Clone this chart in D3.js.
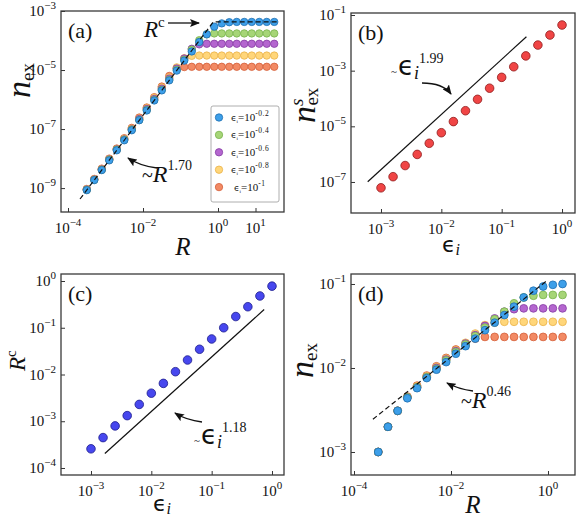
<!DOCTYPE html>
<html>
<head>
<meta charset="utf-8">
<script src="https://cdn.jsdelivr.net/npm/d3@7"></script>
<style>
  body { margin: 0; background: #fff; }
  svg text, svg tspan { font-family: "Liberation Serif", "DejaVu Serif", serif; fill: #111; }
  svg tspan.eps { font-family: "DejaVu Sans", sans-serif; }
</style>
</head>
<body>
<svg id="chart" width="581" height="518" font-family="Liberation Serif, DejaVu Serif, serif"></svg>
<script>
// values are stored as log10 of what is plotted

// (a) n_ex vs R, five epsilon_i
const aLogR = [-3.5,-3.3,-3.1,-2.9,-2.7,-2.5,-2.3,-2.1,-1.9,-1.7,-1.5,-1.3,-1.1,-0.9,-0.7,-0.5,-0.3,-0.1,0.1,0.3,0.5,0.7,0.9,1.1,1.3,1.5];
const aBlue   = [-9.07,-8.73,-8.39,-8.06,-7.72,-7.38,-7.04,-6.70,-6.37,-6.03,-5.69,-5.35,-5.02,-4.68,-4.37,-4.05,-3.79,-3.53,-3.42,-3.38,-3.37,-3.37,-3.37,-3.37,-3.37,-3.37];
const aGreen  = [-9.06,-8.72,-8.38,-8.04,-7.70,-7.36,-7.02,-6.69,-6.35,-6.01,-5.67,-5.33,-4.99,-4.65,-4.31,-3.99,-3.79,-3.76,-3.76,-3.76,-3.76,-3.76,-3.76,-3.76,-3.76,-3.76];
const aPurple = [-9.05,-8.71,-8.37,-8.03,-7.69,-7.35,-7.01,-6.66,-6.32,-5.98,-5.63,-5.29,-4.95,-4.61,-4.28,-4.13,-4.11,-4.11,-4.11,-4.11,-4.11,-4.11,-4.11,-4.11,-4.11,-4.11];
const aYellow = [-9.04,-8.70,-8.36,-8.02,-7.68,-7.33,-6.99,-6.64,-6.29,-5.94,-5.59,-5.25,-4.91,-4.60,-4.52,-4.51,-4.51,-4.51,-4.51,-4.51,-4.51,-4.51,-4.51,-4.51,-4.51,-4.51];
const aOrange = [-9.03,-8.69,-8.34,-8.00,-7.66,-7.31,-6.96,-6.61,-6.27,-5.92,-5.56,-5.20,-4.94,-4.90,-4.89,-4.89,-4.89,-4.89,-4.89,-4.89,-4.89,-4.89,-4.89,-4.89,-4.89,-4.89];
const aFit = [[-3.68,-9.37],[-0.125,-3.37],[1.63,-3.37]];

// (b) n_ex^s vs epsilon_i
const bLogEps = [-3,-2.8,-2.6,-2.4,-2.2,-2,-1.8,-1.6,-1.4,-1.2,-1,-0.8,-0.6,-0.4,-0.2,0];
const bNs = [-7.21,-6.81,-6.41,-6.01,-5.61,-5.23,-4.83,-4.44,-4.03,-3.63,-3.24,-2.86,-2.47,-2.08,-1.72,-1.36];
const bFit = [[-3.22,-6.99],[-0.59,-1.78]];

// (c) R^c vs epsilon_i
const cLogEps = [-3,-2.8,-2.6,-2.4,-2.2,-2,-1.8,-1.6,-1.4,-1.2,-1,-0.8,-0.6,-0.4,-0.2,0];
const cRc = [-3.59,-3.35,-3.10,-2.88,-2.64,-2.40,-2.19,-1.94,-1.69,-1.46,-1.24,-1.00,-0.76,-0.55,-0.32,-0.11];
const cFit = [[-2.77,-3.69],[-0.13,-0.61]];

// (d) n_ex vs R, five epsilon_i
const dLogR = [-3.5,-3.3,-3.1,-2.9,-2.7,-2.5,-2.3,-2.1,-1.9,-1.7,-1.5,-1.3,-1.1,-0.9,-0.7,-0.5,-0.3,-0.1,0.1,0.3];
const dBlue   = [-3.00,-2.70,-2.51,-2.36,-2.24,-2.12,-2.02,-1.93,-1.83,-1.74,-1.65,-1.55,-1.46,-1.37,-1.27,-1.16,-1.08,-1.03,-1.01,-1.00];
const dGreen  = [-3.00,-2.70,-2.51,-2.35,-2.23,-2.11,-2.01,-1.91,-1.81,-1.72,-1.62,-1.52,-1.42,-1.33,-1.23,-1.16,-1.14,-1.13,-1.13,-1.13];
const dPurple = [-3.00,-2.70,-2.51,-2.35,-2.23,-2.11,-2.00,-1.90,-1.80,-1.71,-1.61,-1.50,-1.41,-1.33,-1.30,-1.29,-1.29,-1.29,-1.29,-1.29];
const dYellow = [-3.00,-2.70,-2.51,-2.35,-2.22,-2.10,-1.99,-1.89,-1.79,-1.70,-1.59,-1.49,-1.46,-1.45,-1.45,-1.45,-1.45,-1.45,-1.45,-1.45];
const dOrange = [-3.00,-2.70,-2.51,-2.34,-2.21,-2.09,-1.98,-1.88,-1.78,-1.73,-1.65,-1.63,-1.63,-1.63,-1.63,-1.63,-1.63,-1.63,-1.63,-1.63];
const dFit = [[-3.61,-2.61],[0.0,-0.95]];

const legendExps = ["-0.2", "-0.4", "-0.6", "-0.8", "-1"];
const fills = ["#3d9fe9", "#a6d577", "#b466cf", "#ffd67a", "#f28a64"];
const edges = ["#1f6fb0", "#78b24c", "#853ca3", "#eab24a", "#d45f3a"];

const SERIF = "Liberation Serif";
const svg = d3.select("#chart");
const defs = svg.append("defs");
defs.append("marker")
  .attr("id", "head")
  .attr("viewBox", "0 0 10 8")
  .attr("refX", 9).attr("refY", 4)
  .attr("markerWidth", 10).attr("markerHeight", 8)
  .attr("markerUnits", "userSpaceOnUse")
  .attr("orient", "auto")
  .append("path").attr("d", "M0,0 L10,4 L0,8 L2,4 z").attr("fill", "#111");

const p10 = (e) => Math.pow(10, e);

function txt(parent) {
  return parent.append("text").attr("font-family", SERIF);
}

function makePanel(cfg) {
  const x = d3.scaleLog().domain(cfg.xd.map(p10)).range([cfg.x0, cfg.x1]);
  const y = d3.scaleLog().domain(cfg.yd.map(p10)).range([cfg.y1, cfg.y0]);
  const g = svg.append("g");

  g.append("g")
    .attr("transform", `translate(0,${cfg.y1})`)
    .call(d3.axisBottom(x).tickValues(cfg.xt.map(p10)).tickSize(-4).tickFormat(() => ""))
    .call((s) => s.select(".domain").remove())
    .call((s) => s.selectAll("line").attr("stroke", "#333").attr("stroke-width", 1));
  g.append("g")
    .attr("transform", `translate(${cfg.x0},0)`)
    .call(d3.axisLeft(y).tickValues(cfg.yt.map(p10)).tickSize(-4).tickFormat(() => ""))
    .call((s) => s.select(".domain").remove())
    .call((s) => s.selectAll("line").attr("stroke", "#333").attr("stroke-width", 1));

  // tick labels 10^n
  cfg.xt.forEach((e) => {
    const t = txt(g)
      .attr("x", x(p10(e)))
      .attr("y", cfg.y1 + 21)
      .attr("text-anchor", "middle");
    powLabel(t, e);
  });
  cfg.yt.forEach((e) => {
    const t = txt(g)
      .attr("x", cfg.x0 - 5)
      .attr("y", y(p10(e)) + 5)
      .attr("text-anchor", "end");
    powLabel(t, e);
  });

  g.append("rect")
    .attr("x", cfg.x0).attr("y", cfg.y0)
    .attr("width", cfg.x1 - cfg.x0).attr("height", cfg.y1 - cfg.y0)
    .attr("fill", "none").attr("stroke", "#3a3a3a").attr("stroke-width", 1.3);

  txt(g)
    .attr("x", cfg.x0 + 7).attr("y", cfg.y0 + 27)
    .attr("font-size", 22)
    .text(cfg.tag);

  return { g, x, y };
}

function powLabel(t, e) {
  t.append("tspan").attr("font-size", 15).text("10");
  t.append("tspan").attr("font-size", 11).attr("dy", -7)
    .text(String(e).replace("-", "\u2212"));
}

function dots(p, xs, ys, fill, edge, r) {
  p.g.append("g")
    .selectAll("circle")
    .data(xs.map((v, i) => [v, ys[i]]))
    .enter()
    .append("circle")
    .attr("cx", (d) => p.x(p10(d[0])))
    .attr("cy", (d) => p.y(p10(d[1])))
    .attr("r", r)
    .attr("fill", fill)
    .attr("stroke", edge)
    .attr("stroke-width", 0.8);
}

function fitLine(p, pts, dashed) {
  const line = d3.line().x((d) => p.x(p10(d[0]))).y((d) => p.y(p10(d[1])));
  p.g.append("path")
    .attr("d", line(pts))
    .attr("fill", "none")
    .attr("stroke", "#111")
    .attr("stroke-width", 1.2)
    .attr("stroke-dasharray", dashed ? "5,3" : null);
}

function curvedArrow(g, x1, y1, cx, cy, x2, y2) {
  g.append("path")
    .attr("d", `M${x1},${y1} Q${cx},${cy} ${x2},${y2}`)
    .attr("fill", "none").attr("stroke", "#111").attr("stroke-width", 1.3)
    .attr("marker-end", "url(#head)");
}

function epsTerm(g, x, y, power) {
  const t = txt(g).attr("x", x).attr("y", y);
  t.append("tspan").attr("font-size", 11).text("~");
  t.append("tspan").attr("class", "eps").attr("font-family", "DejaVu Sans")
    .attr("font-size", 26).attr("dx", 1).text("\u03f5");
  t.append("tspan").attr("font-size", 18).attr("font-style", "italic").attr("dy", 4).text("i");
  t.append("tspan").attr("font-size", 14).attr("dy", -16).text(power);
}

function rTerm(g, x, y, power) {
  const t = txt(g).attr("x", x).attr("y", y);
  t.append("tspan").attr("font-size", 20).text("~");
  t.append("tspan").attr("font-size", 24).attr("font-style", "italic").text("R");
  t.append("tspan").attr("font-size", 14).attr("dy", -12).text(power);
}

// ---------- (a)
const pa = makePanel({ tag: "(a)", x0: 61, x1: 284, y0: 11, y1: 212,
  xd: [-4.187, 1.76], yd: [-9.81, -3], xt: [-4, -2, 0, 1], yt: [-3, -5, -7, -9] });
const aSeries = [aBlue, aGreen, aPurple, aYellow, aOrange];
for (let i = aSeries.length - 1; i >= 0; i--) dots(pa, aLogR, aSeries[i], fills[i], edges[i], 3.7);
fitLine(pa, aFit, true);

const rc = txt(pa.g).attr("x", 144).attr("y", 37);
rc.append("tspan").attr("font-size", 23).attr("font-style", "italic").text("R");
rc.append("tspan").attr("font-size", 15).attr("dy", -10).text("c");
pa.g.append("line").attr("x1", 168).attr("y1", 23).attr("x2", 199).attr("y2", 23)
  .attr("stroke", "#111").attr("stroke-width", 1.3).attr("marker-end", "url(#head)");

rTerm(pa.g, 142, 182, "1.70");
curvedArrow(pa.g, 157, 168, 140, 166, 128, 158);

// legend
const lg = pa.g.append("g");
lg.append("rect").attr("x", 211).attr("y", 106).attr("width", 68).attr("height", 96)
  .attr("rx", 2).attr("fill", "#fff").attr("stroke", "#999").attr("stroke-width", 0.8);
legendExps.forEach((e, i) => {
  const cy = 117.5 + i * 17.4;
  lg.append("circle").attr("cx", 219).attr("cy", cy).attr("r", 3.7)
    .attr("fill", fills[i]).attr("stroke", edges[i]).attr("stroke-width", 0.8);
  const t = txt(lg).attr("x", i === 4 ? 234 : 231).attr("y", cy + 3.5);
  t.append("tspan").attr("class", "eps").attr("font-family", "DejaVu Sans").attr("font-size", 9).text("\u03f5");
  t.append("tspan").attr("font-size", 5).attr("dy", 2).text("i");
  t.append("tspan").attr("font-size", 11).attr("dy", -2).text("=10");
  t.append("tspan").attr("font-size", 7.5).attr("dy", -5).attr("letter-spacing", 0.6).text(e);
});

// ---------- (b)
const pb = makePanel({ tag: "(b)", x0: 351, x1: 575, y0: 13, y1: 213,
  xd: [-3.497, 0.215], yd: [-8.115, -0.928], xt: [-3, -2, -1, 0], yt: [-1, -3, -5, -7] });
fitLine(pb, bFit, false);
dots(pb, bLogEps, bNs, "#f04545", "#8e1a1a", 4.3);
epsTerm(pb.g, 391, 75, "1.99");
curvedArrow(pb.g, 422, 83, 443, 83, 451, 94);

// ---------- (c)
const pc = makePanel({ tag: "(c)", x0: 61, x1: 284, y0: 274, y1: 475,
  xd: [-3.497, 0.199], yd: [-4.15, 0.15], xt: [-3, -2, -1, 0], yt: [0, -1, -2, -3, -4] });
fitLine(pc, cFit, false);
dots(pc, cLogEps, cRc, "#4747ee", "#1c1c8c", 4.3);
epsTerm(pc.g, 194, 444, "1.18");
curvedArrow(pc.g, 202, 422, 186, 420, 175, 413);

// ---------- (d)
const pd = makePanel({ tag: "(d)", x0: 351, x1: 575, y0: 274, y1: 475,
  xd: [-4.062, 0.557], yd: [-3.274, -0.881], xt: [-4, -2, 0], yt: [-1, -2, -3] });
const dSeries = [dBlue, dGreen, dPurple, dYellow, dOrange];
for (let i = dSeries.length - 1; i >= 0; i--) dots(pd, dLogR, dSeries[i], fills[i], edges[i], 3.9);
fitLine(pd, dFit, true);
rTerm(pd.g, 461, 408, "0.46");
curvedArrow(pd.g, 473, 391, 458, 389, 447, 383);

// ---------- axis titles
function xR(cx, base) {
  txt(svg).attr("x", cx).attr("y", base).attr("text-anchor", "middle")
    .attr("font-size", 25).attr("font-style", "italic").text("R");
}
function xEps(cx, base) {
  const t = txt(svg).attr("x", cx).attr("y", base).attr("text-anchor", "middle");
  t.append("tspan").attr("class", "eps").attr("font-family", "DejaVu Sans").attr("font-size", 22).text("\u03f5");
  t.append("tspan").attr("font-size", 16).attr("font-style", "italic").attr("dy", 3).text("i");
}
xR(183, 255);
xR(473, 513);
xEps(451, 252);
xEps(162, 511);

function yNex(bx, by) {
  const t = txt(svg).attr("transform", `translate(${bx},${by}) rotate(-90)`);
  t.append("tspan").attr("font-size", 34).attr("font-style", "italic").text("n");
  t.append("tspan").attr("font-size", 19).attr("dy", 4).text("ex");
  return t;
}
yNex(30, 98);
yNex(313, 378);

const tbs = txt(svg).attr("transform", "translate(315,123) rotate(-90)");
tbs.append("tspan").attr("font-size", 34).attr("font-style", "italic").text("n");
tbs.append("tspan").attr("font-size", 19).attr("font-style", "italic").attr("dy", -12).text("s");
tbs.append("tspan").attr("font-size", 19).attr("dx", -7).attr("dy", 15).text("ex");

const tcr = txt(svg).attr("transform", "translate(25,371) rotate(-90)");
tcr.append("tspan").attr("font-size", 23).attr("font-style", "italic").text("R");
tcr.append("tspan").attr("font-size", 15).attr("dy", -9).text("c");
</script>
</body>
</html>
